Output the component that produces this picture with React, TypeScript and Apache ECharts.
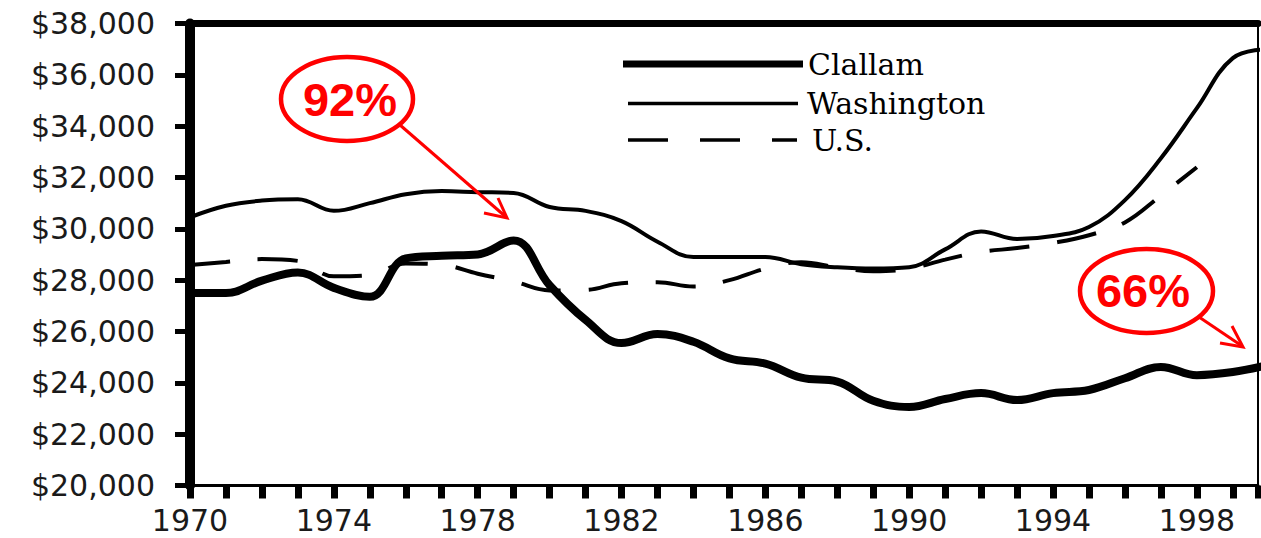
import React, { useEffect, useRef } from "react";
import * as echarts from "echarts";

const years = [
  1970, 1971, 1972, 1973, 1974, 1975, 1976, 1977, 1978, 1979,
  1980, 1981, 1982, 1983, 1984, 1985, 1986, 1987, 1988, 1989,
  1990, 1991, 1992, 1993, 1994, 1995, 1996, 1997, 1998, 1999, 2000,
];

const clallamIncome = [
  27500, 27500, 27980, 28300, 27700, 27350, 28850, 28950, 29000, 29550,
  27800, 26450, 25550, 25900, 25600, 24950, 24750, 24200, 24050, 23300,
  23060, 23370, 23600, 23330, 23600, 23720, 24180, 24620, 24300, 24420, 24700,
];

const washingtonIncome = [
  30450, 30900, 31100, 31150, 30700, 31000, 31350, 31470, 31430, 31400,
  30850, 30700, 30300, 29500, 28900, 28900, 28900, 28620, 28500, 28450,
  28500, 29200, 29900, 29600, 29720, 30070, 31120, 32750, 34700, 36650, 37000,
];

const usYears = [
  1970, 1971, 1972, 1973, 1974, 1975, 1976, 1977, 1978, 1979,
  1980, 1981, 1982, 1983, 1984, 1985, 1986, 1987, 1988, 1989,
  1990, 1991, 1992, 1993, 1994, 1995, 1996, 1997, 1998,
];

const usIncome = [
  28590, 28710, 28820, 28750, 28150, 28200, 28650, 28600, 28250, 27950,
  27600, 27620, 27880, 27920, 27750, 28000, 28450, 28700, 28500, 28350,
  28450, 28800, 29100, 29250, 29450, 29750, 30250, 31300, 32400,
];

const xTickLabels = ["1970", "1974", "1978", "1982", "1986", "1990", "1994", "1998"];
const yTickLabels = [
  "$20,000", "$22,000", "$24,000", "$26,000", "$28,000",
  "$30,000", "$32,000", "$34,000", "$36,000", "$38,000",
];
const seriesNames = ["Clallam", "Washington", "U.S."];
const calloutTexts = ["92%", "66%"];

export default function App() {
  const ref = useRef<HTMLDivElement>(null);

  useEffect(() => {
    if (!ref.current) return;
    const chart = echarts.init(ref.current, null, { renderer: "svg" });
    const pair = (xs: number[], vs: number[]) => vs.map((v, i) => [xs[i], v]);
    const axisFont = "'DejaVu Sans', sans-serif";
    const legendText = {
      fontFamily: "'DejaVu Serif', serif",
      fontSize: 30,
      color: "#000",
      lineHeight: 34,
    };
    const red = "#ff0000";

    const option: any = {
      animation: false,
      backgroundColor: "#ffffff",
      grid: { left: 190, right: 2, top: 23.5, bottom: 52.5, containLabel: false },
      xAxis: [
        {
          type: "value",
          min: 1970,
          max: 1999.7,
          interval: 1,
          position: "bottom",
          axisLine: { show: true, onZero: false, lineStyle: { color: "#000", width: 3 } },
          axisTick: { show: true, length: 13, lineStyle: { color: "#000", width: 7 } },
          axisLabel: {
            margin: 20,
            fontFamily: axisFont,
            fontSize: 30,
            color: "#1a1a1a",
            formatter: (v: number) => {
              const s = String(v);
              return xTickLabels.includes(s) ? s : "";
            },
          },
          splitLine: { show: false },
        },
        {
          type: "value",
          min: 1970,
          max: 1999.7,
          position: "top",
          axisLine: { show: true, onZero: false, lineStyle: { color: "#000", width: 7 } },
          axisTick: { show: false },
          axisLabel: { show: false },
          splitLine: { show: false },
        },
      ],
      yAxis: [
        {
          type: "value",
          min: 20000,
          max: 38000,
          interval: 2000,
          position: "left",
          axisLine: { show: true, onZero: false, lineStyle: { color: "#000", width: 10 } },
          axisTick: { show: true, length: 15, lineStyle: { color: "#000", width: 5 } },
          axisLabel: {
            margin: 35,
            fontFamily: axisFont,
            fontSize: 30,
            color: "#1a1a1a",
            formatter: (v: number) => yTickLabels[Math.round((v - 20000) / 2000)] ?? "",
          },
          splitLine: { show: false },
        },
        {
          type: "value",
          min: 20000,
          max: 38000,
          interval: 2000,
          position: "right",
          axisLine: { show: true, onZero: false, lineStyle: { color: "#000", width: 2 } },
          axisTick: { show: false },
          axisLabel: { show: false },
          splitLine: { show: false },
        },
      ],
      legend: [
        {
          data: [seriesNames[0]],
          left: 623,
          top: 47,
          padding: 0,
          selectedMode: false,
          icon: "path://M0,0H180V7H0Z",
          itemWidth: 180,
          itemHeight: 7,
          textStyle: legendText,
        },
        {
          data: [seriesNames[1]],
          left: 628,
          top: 86.5,
          padding: 0,
          selectedMode: false,
          icon: "path://M0,0H170V3.5H0Z",
          itemWidth: 170,
          itemHeight: 3.5,
          textStyle: { ...legendText, padding: [0, 0, 0, 4] },
        },
        {
          data: [seriesNames[2]],
          left: 628,
          top: 123,
          padding: 0,
          selectedMode: false,
          icon: "path://M0,0H40V3.5H0Z M72,0H112V3.5H72Z M144,0H169V3.5H144Z",
          itemWidth: 169,
          itemHeight: 3.5,
          textStyle: { ...legendText, padding: [0, 0, 0, 10] },
        },
      ],
      series: [
        {
          name: seriesNames[0],
          type: "line",
          xAxisIndex: 0,
          yAxisIndex: 0,
          data: pair(years, clallamIncome),
          symbol: "none",
          smooth: 0.4,
          lineStyle: { color: "#000", width: 8 },
          itemStyle: { color: "#000" },
          z: 4,
        },
        {
          name: seriesNames[1],
          type: "line",
          xAxisIndex: 0,
          yAxisIndex: 0,
          data: pair(years, washingtonIncome),
          symbol: "none",
          smooth: 0.4,
          lineStyle: { color: "#000", width: 4 },
          itemStyle: { color: "#000" },
          z: 3,
        },
        {
          name: seriesNames[2],
          type: "line",
          xAxisIndex: 0,
          yAxisIndex: 0,
          data: pair(usYears, usIncome),
          symbol: "none",
          smooth: 0.4,
          lineStyle: { color: "#000", width: 4, type: [40, 28] },
          itemStyle: { color: "#000" },
          z: 3,
        },
      ],
      graphic: [
        {
          type: "ellipse",
          shape: { cx: 347, cy: 99, rx: 66, ry: 42 },
          style: { fill: "none", stroke: red, lineWidth: 4.5 },
          z: 10,
        },
        {
          type: "text",
          x: 350,
          y: 99,
          style: {
            text: calloutTexts[0],
            fontFamily: "'Liberation Sans', Arial, sans-serif",
            fontWeight: "bold",
            fontSize: 47,
            fill: red,
            align: "center",
            verticalAlign: "middle",
          },
          z: 10,
        },
        {
          type: "line",
          shape: { x1: 400, y1: 125, x2: 506, y2: 217 },
          style: { stroke: red, lineWidth: 3 },
          z: 10,
        },
        {
          type: "polyline",
          shape: { points: [[498, 198], [507, 218], [484, 213]] },
          style: { stroke: red, lineWidth: 3, fill: "none" },
          z: 10,
        },
        {
          type: "ellipse",
          shape: { cx: 1146.5, cy: 291, rx: 66.5, ry: 42 },
          style: { fill: "none", stroke: red, lineWidth: 4.5 },
          z: 10,
        },
        {
          type: "text",
          x: 1143,
          y: 290,
          style: {
            text: calloutTexts[1],
            fontFamily: "'Liberation Sans', Arial, sans-serif",
            fontWeight: "bold",
            fontSize: 47,
            fill: red,
            align: "center",
            verticalAlign: "middle",
          },
          z: 10,
        },
        {
          type: "line",
          shape: { x1: 1199, y1: 317, x2: 1242, y2: 346 },
          style: { stroke: red, lineWidth: 3 },
          z: 10,
        },
        {
          type: "polyline",
          shape: { points: [[1232, 326], [1243, 347], [1220, 343]] },
          style: { stroke: red, lineWidth: 3, fill: "none" },
          z: 10,
        },
      ],
    };

    chart.setOption(option);
    return () => chart.dispose();
  }, []);

  return (
    <div
      ref={ref}
      style={{
        position: "absolute",
        left: 0,
        top: 0,
        width: 1261,
        height: 538,
        background: "#fff",
      }}
    />
  );
}
